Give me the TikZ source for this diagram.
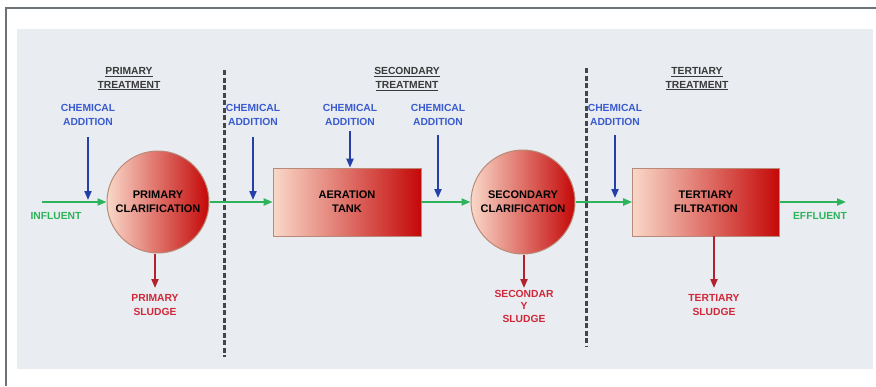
\documentclass[tikz,border=0pt]{standalone}
\usepackage{fontspec}
\setmainfont{Liberation Sans}
\usetikzlibrary{arrows.meta,shapes.geometric}
\definecolor{panel}{HTML}{E9EDF1}
\definecolor{framec}{HTML}{6B7378}
\definecolor{chemtxt}{HTML}{3A5BD0}
\definecolor{chemarr}{HTML}{2440A8}
\definecolor{flowc}{HTML}{2DB35A}
\definecolor{flowtxt}{HTML}{2DB35A}
\definecolor{sludtxt}{HTML}{D0283A}
\definecolor{sludarr}{HTML}{B3202E}
\definecolor{procl}{HTML}{F9D8C8}
\definecolor{procr}{HTML}{C40808}
\definecolor{procb}{HTML}{B98A78}
\definecolor{headc}{HTML}{3A3A3A}
\definecolor{dashc}{HTML}{454545}
\tikzset{
  lbl/.style={font=\bfseries\fontsize{10.3}{13.5}\selectfont, align=center, inner sep=0pt},
  chemlbl/.style={lbl, text=chemtxt},
  sludlbl/.style={lbl, text=sludtxt},
  flowlbl/.style={lbl, text=flowtxt},
  headlbl/.style={lbl, text=headc},
  proctext/.style={font=\bfseries\fontsize{11}{14}\selectfont, align=center, text=black},
  proccirc/.style={circle, proctext, draw=procb, line width=1pt, left color=procl, right color=procr, inner sep=0pt},
  procbox/.style={rectangle, proctext, draw=procb, line width=0.6pt, left color=procl, right color=procr, inner sep=0pt},
  flow/.style={draw=flowc, line width=2pt, -{Triangle[length=9pt,width=7pt]}},
  chem/.style={draw=chemarr, line width=2pt, -{Triangle[length=9pt,width=7pt]}},
  slud/.style={draw=sludarr, line width=2pt, -{Triangle[length=9pt,width=7pt]}},
  divider/.style={draw=dashc, line width=3pt, dash pattern=on 5pt off 2.5pt}
}
\begin{document}
\begin{tikzpicture}[x=1pt,y=-1pt]
\useasboundingbox (0,0) rectangle (876,386);
\fill[white] (0,0) rectangle (876,386);
\draw[framec, line width=2pt] (6,386) -- (6,8) -- (876,8);
\fill[panel] (17,29) rectangle (873,369);
% dividers
\coordinate (d1t) at (224,70); \coordinate (d1b) at (224,357);
\coordinate (d2t) at (586,68); \coordinate (d2b) at (586,346);
\draw[divider] (d1t) -- (d1b);
\draw[divider] (d2t) -- (d2b);
% headings
\node[headlbl] (h1) at (129,79) {\underline{PRIMARY}\\\underline{TREATMENT}};
\node[headlbl] (h2) at (407,79) {\underline{SECONDARY}\\\underline{TREATMENT}};
\node[headlbl] (h3) at (697,79) {\underline{TERTIARY}\\\underline{TREATMENT}};
% process units
\node[proccirc, minimum size=102pt] (pc) at (158,202) {PRIMARY\\CLARIFICATION};
\node[procbox, minimum width=148pt, minimum height=68pt] (at) at (347,202) {AERATION\\TANK};
\node[proccirc, minimum size=104pt] (sc) at (523,202) {SECONDARY\\CLARIFICATION};
\node[procbox, minimum width=147pt, minimum height=68pt] (tf) at (706,202) {TERTIARY\\FILTRATION};
% flow line
\coordinate (inf) at (42,202);
\coordinate (eff) at (846,202);
\draw[flow] (inf) -- (pc.west);
\draw[flow] (pc.east) -- (at.west);
\draw[flow] (at.east) -- (sc.west);
\draw[flow] (sc.east) -- (tf.west);
\draw[flow] (tf.east) -- (eff);
\node[flowlbl] (inflbl) at (56,216) {INFLUENT};
\node[flowlbl] (efflbl) at (820,216) {EFFLUENT};
% chemical addition
\node[chemlbl] (c1) at (88,115) {CHEMICAL\\ADDITION};
\node[chemlbl] (c2) at (253,115) {CHEMICAL\\ADDITION};
\node[chemlbl] (c3) at (350,115) {CHEMICAL\\ADDITION};
\node[chemlbl] (c4) at (438,115) {CHEMICAL\\ADDITION};
\node[chemlbl] (c5) at (615,115) {CHEMICAL\\ADDITION};
\coordinate (c1a) at (88,137); \coordinate (c1b) at (88,200);
\coordinate (c2a) at (253,137); \coordinate (c2b) at (253,200);
\coordinate (c3a) at (350,131);
\coordinate (c4a) at (438,135); \coordinate (c4b) at (438,198);
\coordinate (c5a) at (615,135); \coordinate (c5b) at (615,198);
\draw[chem] (c1a) -- (c1b);
\draw[chem] (c2a) -- (c2b);
\draw[chem] (c3a) -- (c3a |- at.north);
\draw[chem] (c4a) -- (c4b);
\draw[chem] (c5a) -- (c5b);
% sludge
\coordinate (s1) at (155,288);
\coordinate (s2) at (524,288);
\coordinate (s3) at (714,288);
\draw[slud] (pc.south -| s1) -- (s1);
\draw[slud] (sc.south -| s2) -- (s2);
\draw[slud] (tf.south -| s3) -- (s3);
\node[sludlbl] (sl1) at (155,305) {PRIMARY\\SLUDGE};
\node[sludlbl, font=\bfseries\fontsize{10.3}{12.5}\selectfont] (sl2) at (524,306) {SECONDAR\\Y\\SLUDGE};
\node[sludlbl] (sl3) at (714,305) {TERTIARY\\SLUDGE};
\end{tikzpicture}
\end{document}
